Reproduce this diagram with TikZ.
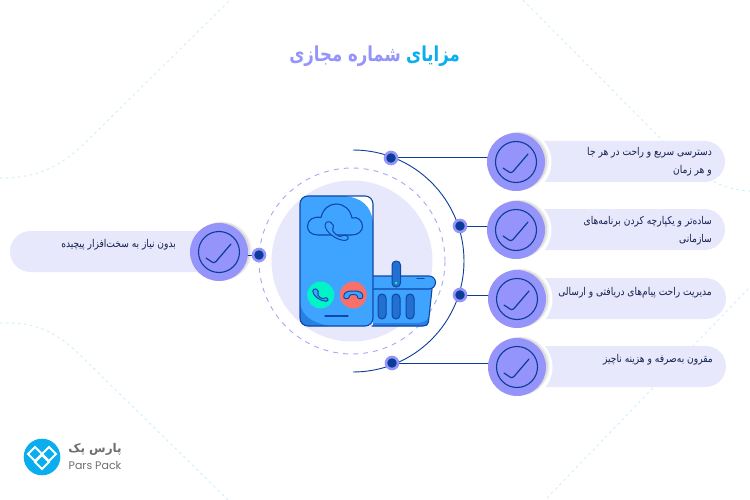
\documentclass[tikz,border=0pt]{standalone}
\usepackage{fontspec}
\setmainfont{DejaVu Sans}
\newfontfamily\fa[Script=Arabic]{DejaVu Sans}
\newfontfamily\latinlogo{Poppins}
\TeXXeTstate=1
\pgfdeclarelayer{back}
\pgfdeclarelayer{conn}
\pgfsetlayers{back,conn,main}
\definecolor{navy}{HTML}{0B3C98}
\definecolor{peri}{HTML}{9494FA}
\definecolor{lav}{HTML}{E8E8FC}
\definecolor{sky}{HTML}{0AAEEF}
\definecolor{decor}{HTML}{CFEEFB}
\definecolor{pblue}{HTML}{3FA4FF}
\definecolor{pdark}{HTML}{2A7FE2}
\definecolor{pborder}{HTML}{0F47A8}
\definecolor{slot}{HTML}{2270CF}
\definecolor{okgreen}{HTML}{00F5C6}
\definecolor{nored}{HTML}{F7706A}
\definecolor{ink}{HTML}{14224F}
\definecolor{logogray}{HTML}{6D6E71}
\definecolor{dashc}{HTML}{A9A6F8}
\newcommand{\faln}[1]{\scalebox{1}[1.18]{\beginR #1\endR}}
\newcommand{\handsetpath}{(-9,-10) -- (-4.5,-7.5) -- (-3,-3.5) -- (-5,-1.5) .. controls (-3,2.5) and (0,4.5) .. (4,6) -- (7,3.5) -- (12,6) -- (10,9.5) .. controls (-1,9.5) and (-12,0.5) .. (-12,-7.5) -- cycle}
\tikzset{
  pill/.style={fill=lav,draw=none,rounded corners=20.5},
  chk/.style={circle,fill=peri,draw=none,minimum size=58,inner sep=0},
  dot/.style={circle,fill=navy,draw=peri,line width=2.6,minimum size=12,inner sep=0},
  conn/.style={draw=navy,line width=1},
  txt/.style={text=ink,inner sep=0,align=right,font=\fa\fontsize{9.1}{18}\selectfont},
  ttl/.style={inner sep=0,font=\fa\bfseries\fontsize{16.5}{20}\selectfont},
  decorline/.style={draw=decor,line width=0.9,dash pattern=on 2.5 off 3.5},
  pline/.style={draw=pborder,line width=1.1,line cap=round,line join=round},
  slotbox/.style={fill=slot,draw=pborder,line width=1,rounded corners=4},
  handsetfill/.style={fill=pblue,draw=pborder,line width=1,line join=round,rounded corners=1.6},
}
\begin{document}
\begin{tikzpicture}[x=1pt,y=-1pt]
\useasboundingbox (0,0) rectangle (750,500);
% title
\node[ttl,text=sky,anchor=east] (titlea) at (460,56) {\scalebox{1}[1.25]{\beginR مزایای\endR}};
\node[ttl,text=peri,anchor=east] (titleb) at ([xshift=-5]titlea.west) {\scalebox{1}[1.25]{\beginR شماره مجازی\endR}};
% central disc
\fill[lav] (352,261) circle[radius=80.5];
\draw[dashc,line width=0.9,dash pattern=on 5 off 5] (352,261) circle[radius=93];
\draw[navy,line width=0.9] (353,150) arc[start angle=-90,end angle=90,radius=111];
% check circles
\node[chk] (c1) at (516,162) {};
\node[chk] (c2) at (516,230) {};
\node[chk] (c3) at (517,299) {};
\node[chk] (c4) at (517,367) {};
\node[chk] (c5) at (219,252) {};
\node[dot] (d1) at (391,158) {};
\node[dot] (d2) at (460,226) {};
\node[dot] (d3) at (460,295) {};
\node[dot] (d4) at (392,363) {};
\node[dot] (d5) at (259,255) {};
\begin{pgfonlayer}{back}
\fill[white] (0,0) rectangle (750,500);
% decorative curves
\draw[decorline] (0,178) .. controls (30,178) and (55,172) .. (85,143) -- (230,0);
\draw[decorline] (523,0) -- (665,143) .. controls (690,168) and (715,190) .. (750,191);
\draw[decorline] (0,323) .. controls (30,322) and (50,328) .. (75,350) -- (228,500);
\draw[decorline] (547,498) -- (750,287);
\fill[pill] (520,141) rectangle (725,182);
\fill[pill] (520,209) rectangle (725,250);
\fill[pill] (520,278) rectangle (726,319);
\fill[pill] (520,346) rectangle (726,387);
\fill[pill] (10,231) rectangle (215,272);
\foreach \n in {c1,c2,c3,c4,c5}{
  \fill[white] ([xshift=3.5]\n.center) circle[radius=32];
  \fill[black!6] ([xshift=3.4,yshift=1]\n.center) circle[radius=29.3];
  \fill[black!14] ([xshift=2,yshift=0.6]\n.center) circle[radius=29];
}
\end{pgfonlayer}
\begin{pgfonlayer}{conn}
\draw[conn] (d1) -- (d1 -| c1);
\draw[conn] (d2) -- (d2 -| c2);
\draw[conn] (d3) -- (d3 -| c3);
\draw[conn] (d4) -- (d4 -| c4);
\draw[conn] (d5) -- (d5 -| c5);
\end{pgfonlayer}
\foreach \n in {c1,c2,c3,c4,c5}{
  \begin{scope}[shift={(\n.center)}]
  \draw[navy,line width=1.1] (0,0) circle[radius=20.5];
  \draw[navy,line width=1.2,line cap=round,line join=round] (-13,6) -- (-7,10) .. controls (-5.5,11) and (-4.5,11) .. (-3,9.5) -- (12,-8);
  \end{scope}
}
% labels
\node[txt,anchor=east] (t1) at (712,162) {\faln{دسترسی سریع و راحت در هر جا}\\\faln{و هر زمان}};
\node[txt,anchor=east] (t2) at (712,230.5) {\faln{ساده‌تر و یکپارچه کردن برنامه‌های}\\\faln{سازمانی}};
\node[txt,anchor=east] (t3) at (712,293) {\faln{مدیریت راحت پیام‌های دریافتی و ارسالی}};
\node[txt,anchor=east] (t4) at (713,360) {\faln{مقرون به‌صرفه و هزینه ناچیز}};
\node[txt,anchor=east] (t5) at (176,245) {\faln{بدون نیاز به سخت‌افزار پیچیده}};
% basket
\fill[pblue] (373,289) -- (432,289) -- (428.5,322) .. controls (428,325) and (426,326) .. (423,326) -- (373,326) -- cycle;
\fill[pdark] (373,326) -- (423,326) .. controls (426,326) and (428,325) .. (428.5,322) -- (429,316) .. controls (427,322) and (422,323) .. (415,323) -- (373,323) -- cycle;
\draw[pline] (372,326) -- (423,326) .. controls (426,326) and (428,325) .. (428.5,322) -- (432,289);
\fill[pblue] (372,276) -- (429,276) arc[start angle=-90,end angle=90,radius=6.5] -- (372,289) -- cycle;
\draw[pline] (372,276) -- (429,276) arc[start angle=-90,end angle=90,radius=6.5] -- (372,289);
\draw[pline] (417,278.5) -- (424,278.5);
\draw[slotbox] (378,294) rectangle (386,319);
\draw[slotbox] (392,294) rectangle (400,319);
\draw[slotbox] (406,294) rectangle (414,319);
\draw[slotbox] (392,261) rectangle (400.5,287);
\fill[okgreen] (396.2,283) circle[radius=1.5];
% phone
\fill[white,rounded corners=8] (300,196) rectangle (373,326);
\fill[pblue] (308,196) -- (345,196) .. controls (362,198) and (371,206) .. (373,222) -- (373,318) .. controls (373,323) and (370,326) .. (365,326) -- (308,326) .. controls (303,326) and (300,323) .. (300,318) -- (300,204) .. controls (300,199) and (303,196) .. (308,196) -- cycle;
\fill[pdark] (300,303) .. controls (302,316) and (312,323) .. (330,326) -- (308,326) .. controls (303,326) and (300,323) .. (300,318) -- cycle;
\draw[pline,rounded corners=8] (300,196) rectangle (373,326);
% cloud
\draw[pline] (318,235) .. controls (311,235) and (307.5,231) .. (307.5,226.5) .. controls (307.5,220) and (313,216) .. (321,217.5) .. controls (323,209) and (329,204) .. (336,204) .. controls (344,204) and (350,209) .. (352,218) .. controls (358,216) and (362.5,221) .. (362.5,226.5) .. controls (362.5,231) and (358,235) .. (352,235) -- cycle;
% handset in cloud
\begin{scope}[shift={(337,231)}]
\draw[handsetfill] \handsetpath;
\end{scope}
% call buttons
\node[circle,fill=okgreen,minimum size=27,inner sep=0] (accept) at (320.7,295) {};
\node[circle,fill=nored,minimum size=27,inner sep=0] (reject) at (353.3,295) {};
\begin{scope}[shift={(accept.center)},scale=0.66]
\draw[handsetfill,rounded corners=1.2] \handsetpath;
\end{scope}
\begin{scope}[shift={(reject.center)}]
\draw[handsetfill,rounded corners=1] (-9.5,2) .. controls (-9.5,-3) and (-5,-4) .. (0,-4) .. controls (5,-4) and (9.5,-3) .. (9.5,2) -- (9,3.5) -- (4.5,3.5) -- (4,0.5) .. controls (2,-0.5) and (-2,-0.5) .. (-4,0.5) -- (-4.5,3.5) -- (-9,3.5) -- cycle;
\end{scope}
\draw[pline] (325,316) -- (348,316);
% logo
\node[circle,fill=sky,minimum size=36.6,inner sep=0] (logo) at (42,457) {};
\foreach \dx/\dy in {-7/-3,7/-3,0/5}{
  \begin{scope}[shift={(logo.center)}]
  \draw[white,line width=2,line join=miter] (\dx-7,\dy) -- (\dx,\dy-7) -- (\dx+7,\dy) -- (\dx,\dy+7) -- cycle;
  \end{scope}
}
\node[inner sep=0,text=logogray,anchor=center] (lfa) at (95,449) {\fa\bfseries\fontsize{12}{15}\selectfont\beginR پارس پک\endR};
\node[inner sep=0,text=logogray,anchor=center] (len) at (95,465) {\latinlogo\fontsize{11}{11}\selectfont Pars Pack};
\end{tikzpicture}
\end{document}
